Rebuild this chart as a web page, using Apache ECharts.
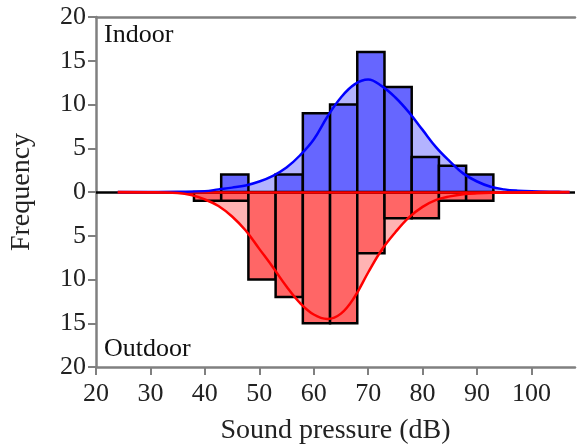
<!DOCTYPE html>
<html>
<head>
<meta charset="utf-8">
<script src="https://cdn.jsdelivr.net/npm/echarts@6/dist/echarts.min.js"></script>
<style>
html, body { margin: 0; padding: 0; background: #fff; }
#container { width: 577px; height: 447px; }
</style>
</head>
<body>
<div id="container"></div>
<script>
var dom = document.getElementById("container");
var myChart = echarts.init(dom);

// histogram bins (dB), left edges, 5 dB wide
var binStarts = [38, 43, 48, 53, 58, 63, 68, 73, 78, 83, 88];
var binWidth = 5;
var indoorCounts = [0, 2, 0, 2, 9, 10, 16, 12, 4, 3, 2];
var outdoorCounts = [-1, -1, -10, -12, -15, -15, -7, -3, -3, -1, -1];

// fitted curves
var indoorCurveX = [24, 30, 35, 40, 42.5, 45, 47.5, 50, 52.5, 55, 57.5, 60, 62.5, 65, 67.5, 70, 72.5, 75, 77.5, 80, 82.5, 85, 87.5, 90, 92.5, 95, 97.5, 100, 105, 107];
var indoorCurveY = [0, 0.01, 0.03, 0.1, 0.3, 0.5, 0.75, 1.2, 1.85, 2.8, 4.2, 6.0, 8.6, 10.8, 12.3, 12.85, 12.1, 10.8, 9.1, 7.1, 5.1, 3.5, 2.1, 1.2, 0.6, 0.3, 0.15, 0.08, 0.02, 0];
var outdoorCurveX = [24, 30, 35, 37.5, 40, 42.5, 45, 47.5, 50, 52.5, 55, 57.5, 60, 62.5, 65, 67.5, 70, 72.5, 75, 77.5, 80, 82.5, 85, 87.5, 90, 95, 100, 107];
var outdoorCurveY = [0, -0.02, -0.12, -0.35, -0.85, -1.6, -2.8, -4.4, -6.5, -8.6, -10.8, -12.7, -14.0, -14.5, -13.9, -12.0, -9.2, -6.6, -4.6, -2.9, -1.7, -0.9, -0.5, -0.25, -0.15, -0.05, -0.02, 0];

var xMin = 20, xMax = 108, xStep = 10;
var yMin = -20, yMax = 20, yStep = 5;

function zip(xs, ys) {
    return xs.map(function (x, i) { return [x, ys[i]]; });
}
function binData(counts) {
    var out = [];
    counts.forEach(function (c, i) {
        if (c !== 0) out.push([binStarts[i], binStarts[i] + binWidth, c]);
    });
    return out;
}
function renderBin(params, api) {
    var p0 = api.coord([api.value(0), 0]);
    var p1 = api.coord([api.value(1), api.value(2)]);
    return {
        type: 'rect',
        shape: {
            x: p0[0],
            y: Math.min(p0[1], p1[1]),
            width: p1[0] - p0[0],
            height: Math.abs(p1[1] - p0[1])
        },
        style: api.style({ stroke: '#000', lineWidth: 2.5 })
    };
}

var serif = 'Liberation Serif, Times New Roman, serif';
var axisGray = '#808080';
var outdoorStart = outdoorCurveX[0];
var outdoorEnd = outdoorCurveX[outdoorCurveX.length - 1];

option = {
    animation: false,
    grid: { left: 96, right: 2, top: 17, bottom: 80, containLabel: false, outerBoundsMode: 'none' },
    xAxis: [{
        type: 'value',
        min: xMin,
        max: xMax,
        interval: xStep,
        name: 'Sound pressure (dB)',
        nameLocation: 'middle',
        nameGap: 50,
        nameTextStyle: { fontFamily: serif, fontSize: 28, color: '#222' },
        axisLine: { onZero: false, lineStyle: { color: axisGray, width: 2.5 } },
        axisTick: { length: 8, lineStyle: { color: axisGray, width: 2 } },
        axisLabel: { fontFamily: serif, fontSize: 26, color: '#222', margin: 14, showMaxLabel: false },
        splitLine: { show: false }
    }, {
        type: 'value',
        position: 'top',
        min: xMin,
        max: xMax,
        axisLine: { onZero: false, lineStyle: { color: axisGray, width: 2.5 } },
        axisTick: { show: false },
        axisLabel: { show: false },
        splitLine: { show: false }
    }],
    yAxis: {
        type: 'value',
        min: yMin,
        max: yMax,
        interval: yStep,
        name: 'Frequency',
        nameLocation: 'middle',
        nameGap: 60,
        nameTextStyle: { fontFamily: serif, fontSize: 28, color: '#222' },
        axisLine: { show: true, onZero: false, lineStyle: { color: axisGray, width: 2.5 } },
        axisTick: { show: true, length: 8, lineStyle: { color: axisGray, width: 2 } },
        axisLabel: {
            fontFamily: serif, fontSize: 26, color: '#222', margin: 10,
            formatter: function (v) { return Math.abs(v); }
        },
        splitLine: { show: false }
    },
    graphic: [
        { type: 'text', left: 104, top: 22, style: { text: 'Indoor', font: '26px ' + serif, fill: '#111' } },
        { type: 'text', left: 104, top: 336, style: { text: 'Outdoor', font: '26px ' + serif, fill: '#111' } }
    ],
    series: [
        {
            name: 'Indoor fit area',
            type: 'line',
            data: zip(indoorCurveX, indoorCurveY),
            smooth: 0.4,
            symbol: 'none',
            lineStyle: { width: 0 },
            areaStyle: { color: '#b3b3ff', opacity: 1 },
            z: 1
        },
        {
            name: 'Outdoor fit area',
            type: 'line',
            data: zip(outdoorCurveX, outdoorCurveY),
            smooth: 0.4,
            symbol: 'none',
            lineStyle: { width: 0 },
            areaStyle: { color: '#ffb3b3', opacity: 1 },
            markLine: {
                silent: true,
                symbol: 'none',
                label: { show: false },
                lineStyle: { color: '#000', width: 2.5, type: 'solid' },
                data: [{ yAxis: 0 }]
            },
            z: 1
        },
        {
            name: 'Outdoor',
            type: 'custom',
            renderItem: renderBin,
            itemStyle: { color: '#ff6666' },
            encode: { x: [0, 1], y: 2 },
            data: binData(outdoorCounts),
            z: 2
        },
        {
            name: 'Indoor',
            type: 'custom',
            renderItem: renderBin,
            itemStyle: { color: '#6666ff' },
            encode: { x: [0, 1], y: 2 },
            data: binData(indoorCounts),
            z: 2
        },
        {
            name: 'Indoor fit',
            type: 'line',
            data: zip(indoorCurveX, indoorCurveY),
            smooth: 0.4,
            symbol: 'none',
            lineStyle: { color: '#0000ff', width: 2.5 },
            z: 5
        },
        {
            name: 'Outdoor fit',
            type: 'line',
            data: zip(outdoorCurveX, outdoorCurveY),
            smooth: 0.4,
            symbol: 'none',
            lineStyle: { color: '#ff0000', width: 2.5 },
            markLine: {
                silent: true,
                symbol: 'none',
                label: { show: false },
                lineStyle: { color: '#ff0000', width: 2.5, type: 'solid' },
                data: [[{ coord: [outdoorStart, 0] }, { coord: [outdoorEnd, 0] }]]
            },
            z: 6
        }
    ]
};

if (option && typeof option === "object") {
    myChart.setOption(option, true);
}
</script>
</body>
</html>
